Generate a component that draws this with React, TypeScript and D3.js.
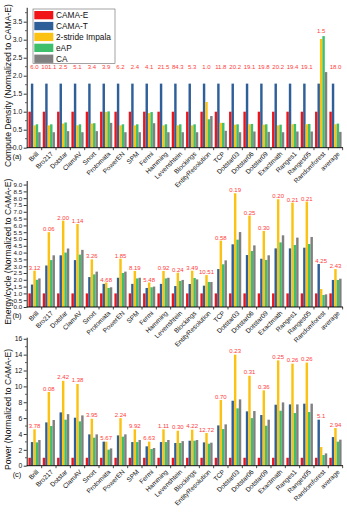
import { useEffect, useRef } from 'react';
import * as d3 from 'd3';

const categories = ['Brill', 'Bro217', 'Dotstar', 'ClamAV', 'Snort', 'Protomata', 'PowerEN', 'SPM', 'Fermi', 'Hamming',
    'Levenshtein', 'Blockings', 'EntityResolution', 'TCP', 'Dotstar03', 'Dotstar06', 'Dotstar09', 'Exactmath',
    'Ranges1', 'Ranges05', 'Randomforest', 'average'];
const seriesNames = ['CAMA-E', 'CAMA-T', '2-stride Impala', 'eAP', 'CA'];
const seriesColors = ['#f01418', '#2f5f99', '#fbc214', '#3dbf6c', '#808080'];

// (a) compute density
const densityCamaE = [1, 1, 1, 1, 1, 1, 1, 1, 1, 1, 1, 1, 1, 1, 1, 1, 1, 1, 1, 1, 1, 1];
const densityCamaT = [1.78, 1.78, 1.78, 1.78, 1.78, 1.78, 1.78, 1.78, 1.78, 1.78, 1.78, 1.78, 1.78, 1.78, 1.78, 1.78, 1.78, 1.78, 1.78, 1.78, 1.78, 1.78];
const densityImpala = [0.62, 0.62, 0.67, 0.62, 0.67, 0.99, 0.62, 0.62, 0.96, 0.62, 0.62, 0.62, 1.27, 0.69, 0.64, 0.65, 0.64, 0.62, 0.65, 0.65, 3.02, 0.65];
const densityEap = [0.65, 0.65, 0.70, 0.65, 0.68, 1.01, 0.65, 0.65, 0.99, 0.65, 0.65, 0.65, 0.79, 0.69, 0.65, 0.66, 0.65, 0.64, 0.66, 0.66, 3.10, 0.67];
const densityCa = [0.43, 0.43, 0.46, 0.43, 0.46, 0.69, 0.43, 0.43, 0.68, 0.43, 0.43, 0.43, 0.88, 0.47, 0.43, 0.45, 0.44, 0.43, 0.45, 0.45, 2.10, 0.44];
const densityLabels = ['6.0', '101.1', '2.5', '5.1', '3.4', '3.9', '6.2', '2.4', '4.1', '21.5', '84.3', '5.3', '1.0', '11.8',
    '20.2', '19.1', '19.8', '20.2', '19.4', '19.1', '1.5', '18.0'];

// (b) energy per cycle
const energyCamaE = [1, 1, 1, 1, 1, 1, 1, 1, 1, 1, 1, 1, 1, 1, 1, 1, 1, 1, 1, 1, 1, 1];
const energyCamaT = [1.65, 3.05, 3.8, 3.45, 2.2, 1.7, 2.15, 1.7, 1.4, 1.7, 1.54, 1.69, 1.57, 2.79, 4.61, 3.82, 3.55, 4.31, 4.31, 4.36, 3.16, 1.99];
const energyImpala = [2.67, 5.5, 6.35, 6.1, 3.5, 1.8, 3.55, 2.65, 1.8, 2.65, 2.52, 2.67, 2.35, 4.88, 8.36, 6.72, 5.59, 7.92, 7.67, 7.75, 1.32, 2.79];
const energyEap = [2.0, 3.45, 4.0, 3.85, 2.4, 1.4, 2.5, 2.1, 1.45, 2.1, 1.91, 2.13, 1.84, 3.14, 4.95, 4.12, 3.46, 4.75, 4.56, 4.63, 0.88, 1.99];
const energyCa = [2.1, 3.8, 4.3, 4.2, 2.6, 1.45, 2.6, 2.15, 1.5, 2.15, 1.99, 2.03, 1.84, 3.43, 5.51, 4.53, 3.8, 5.27, 5.1, 5.15, 0.93, 2.08];
const energyLabels = ['3.12', '0.06', '2.00', '1.14', '3.26', '4.68', '1.85', '8.19', '5.48', '0.92', '0.24', '3.49', '10.51',
    '0.58', '0.19', '0.25', '0.30', '0.20', '0.21', '0.21', '4.25', '2.43'];

// (c) power
const powerCamaE = [1, 1, 1, 1, 1, 1, 1, 1, 1, 1, 1, 1, 1, 1, 1, 1, 1, 1, 1, 1, 1, 1];
const powerCamaT = [2.98, 5.46, 6.72, 6.05, 3.95, 3.03, 3.82, 2.98, 2.44, 2.98, 2.86, 3.15, 2.94, 5.08, 8.19, 6.85, 6.39, 7.69, 7.73, 7.82, 5.8, 3.61];
const powerImpala = [4.58, 9.29, 10.7, 10.3, 5.92, 3.03, 6.0, 4.58, 3.03, 4.58, 4.41, 4.54, 4.12, 8.28, 14.0, 11.34, 9.5, 13.28, 12.86, 13.0, 2.35, 4.75];
const powerEap = [2.94, 5.0, 5.8, 5.59, 3.53, 2.02, 3.66, 2.98, 2.1, 2.98, 2.86, 3.15, 2.77, 4.62, 7.23, 6.0, 5.04, 6.93, 6.64, 6.76, 1.34, 3.03];
const powerCa = [3.24, 5.76, 6.5, 6.34, 3.95, 2.18, 3.95, 3.24, 2.23, 3.24, 3.1, 3.24, 2.9, 5.21, 8.36, 6.89, 5.8, 7.98, 7.73, 7.82, 1.55, 3.28];
const powerLabels = ['3.78', '0.08', '2.42', '1.38', '3.95', '5.67', '2.24', '9.92', '6.63', '1.11', '0.30', '4.22', '12.72',
    '0.70', '0.23', '0.31', '0.36', '0.25', '0.26', '0.26', '5.1', '2.94'];

const FONT = 'Liberation Sans, Arial, sans-serif';

const panels = [
    { tag: '(a)', title: 'Compute Density (Normalized to CAMA-E)', series: [densityCamaE, densityCamaT, densityImpala, densityEap, densityCa],
      labels: densityLabels, top: 3.9, major: 0.5, minor: 0.25, fmt: d3.format('.1f'), y0: 147.7, y1: 7.3, labelFloor: 2.1, labelGap: 3, legend: true },
    { tag: '(b)', title: 'Energy/cycle (Normalized to CAMA-E)', series: [energyCamaE, energyCamaT, energyImpala, energyEap, energyCa],
      labels: energyLabels, top: 9.3, major: 0.5, minor: 0, fmt: d3.format('.1f'), y0: 307, y1: 180.5, labelFloor: 0, labelGap: 1, legend: false },
    { tag: '(c)', title: 'Power (Normalized to CAMA-E)', series: [powerCamaE, powerCamaT, powerImpala, powerEap, powerCa],
      labels: powerLabels, top: 16.2, major: 2, minor: 1, fmt: d3.format('d'), y0: 465.7, y1: 337.2, labelFloor: 0, labelGap: 1.5, legend: false },
];

const App = () => {
    const ref = useRef(null);

    useEffect(() => {
        document.body.style.margin = '0';
        const svg = d3.select(ref.current);
        svg.selectAll('*').remove();

        const axisX = 26.7;
        const x = d3.scaleBand().domain(categories).range([27, 343]).paddingInner(0.15).paddingOuter(0.1);
        const xs = d3.scaleBand().domain(seriesNames).range([0, x.bandwidth()]);
        const gap = x.step() * 0.15;

        panels.forEach(p => {
            const y = d3.scaleLinear().domain([0, p.top]).range([p.y0, p.y1]);
            const g = svg.append('g');

            // bars
            p.series.forEach((vals, si) => {
                g.selectAll(null)
                    .data(categories)
                    .enter()
                    .append('rect')
                    .attr('x', (c) => x(c) + xs(seriesNames[si]))
                    .attr('y', (c, i) => y(vals[i]))
                    .attr('width', xs.bandwidth())
                    .attr('height', (c, i) => y(0) - y(vals[i]))
                    .attr('fill', seriesColors[si]);
            });

            // value labels
            g.selectAll(null)
                .data(categories)
                .enter()
                .append('text')
                .attr('x', c => x(c) + x.bandwidth() / 2)
                .attr('y', (c, i) => {
                    const m = Math.max(p.labelFloor, ...p.series.map(s => s[i]));
                    return y(m) - p.labelGap;
                })
                .attr('text-anchor', 'middle')
                .attr('font-family', FONT)
                .attr('font-size', 6)
                .attr('fill', '#ff3b3b')
                .text((c, i) => p.labels[i]);

            // y axis
            const majors = d3.range(0, p.top + 1e-9, p.major);
            const yAxis = g.append('g')
                .attr('transform', `translate(${axisX},0)`)
                .call(d3.axisLeft(y).tickValues(majors).tickFormat(p.fmt).tickSize(3).tickSizeOuter(0).tickPadding(1.5));
            yAxis.select('.domain').attr('stroke-width', 0.9);
            yAxis.selectAll('.tick line').attr('stroke-width', 0.8);
            yAxis.selectAll('text').attr('font-family', FONT).attr('font-size', p.major === 0.5 && p.top > 5 ? 6.2 : 6.8).attr('fill', '#111');
            if (p.minor) {
                g.selectAll(null)
                    .data(d3.range(p.minor, p.top, p.major).filter(v => Math.abs(v / p.major - Math.round(v / p.major)) > 0.01))
                    .enter()
                    .append('line')
                    .attr('x1', axisX - 1.6).attr('x2', axisX)
                    .attr('y1', d => y(d)).attr('y2', d => y(d))
                    .attr('stroke', '#000').attr('stroke-width', 0.7);
            }

            // x axis
            g.append('line')
                .attr('x1', axisX).attr('x2', 343)
                .attr('y1', y(0)).attr('y2', y(0))
                .attr('stroke', '#000').attr('stroke-width', 0.9);
            g.selectAll(null)
                .data(categories)
                .enter()
                .append('line')
                .attr('x1', c => x(c) + x.bandwidth() + gap / 2)
                .attr('x2', c => x(c) + x.bandwidth() + gap / 2)
                .attr('y1', y(0)).attr('y2', y(0) + 2.5)
                .attr('stroke', '#000').attr('stroke-width', 0.7);
            g.selectAll(null)
                .data(categories)
                .enter()
                .append('text')
                .attr('transform', c => `translate(${x(c) + x.bandwidth() / 2 + 3},${y(0) + 5}) rotate(-45)`)
                .attr('text-anchor', 'end')
                .attr('dy', '0.35em')
                .attr('font-family', FONT)
                .attr('font-size', 6.6)
                .attr('fill', '#111')
                .text(c => c);

            // panel tag and y title
            g.append('text')
                .attr('x', 17).attr('y', y(0) + 11)
                .attr('text-anchor', 'middle')
                .attr('font-family', FONT).attr('font-size', 7.5).attr('fill', '#111')
                .text(p.tag);
            g.append('text')
                .attr('transform', `translate(7.5,${(p.y0 + p.y1) / 2 + 8}) rotate(-90)`)
                .attr('text-anchor', 'middle')
                .attr('dy', '0.35em')
                .attr('font-family', FONT).attr('font-size', 8.6).attr('fill', '#111')
                .text(p.title);

            if (p.legend) {
                const lg = g.append('g').attr('transform', 'translate(33,9)');
                lg.append('rect')
                    .attr('x', 0).attr('y', 0).attr('width', 82).attr('height', 54.5)
                    .attr('fill', '#fff').attr('stroke', '#666').attr('stroke-width', 0.6);
                seriesNames.forEach((s, i) => {
                    lg.append('rect')
                        .attr('x', 1.3).attr('y', 2 + i * 10.9)
                        .attr('width', 19).attr('height', 8.3)
                        .attr('fill', seriesColors[i]);
                    lg.append('text')
                        .attr('x', 23).attr('y', 6.2 + i * 10.9)
                        .attr('dy', '0.35em')
                        .attr('font-family', FONT).attr('font-size', 8.3).attr('fill', '#111')
                        .text(s);
                });
            }
        });
    }, []);

    return (
        <svg ref={ref} width={347} height={515} viewBox="0 0 347 515"
            style={{ position: 'absolute', left: 0, top: 0, background: '#fff' }} />
    );
};

export default App;
